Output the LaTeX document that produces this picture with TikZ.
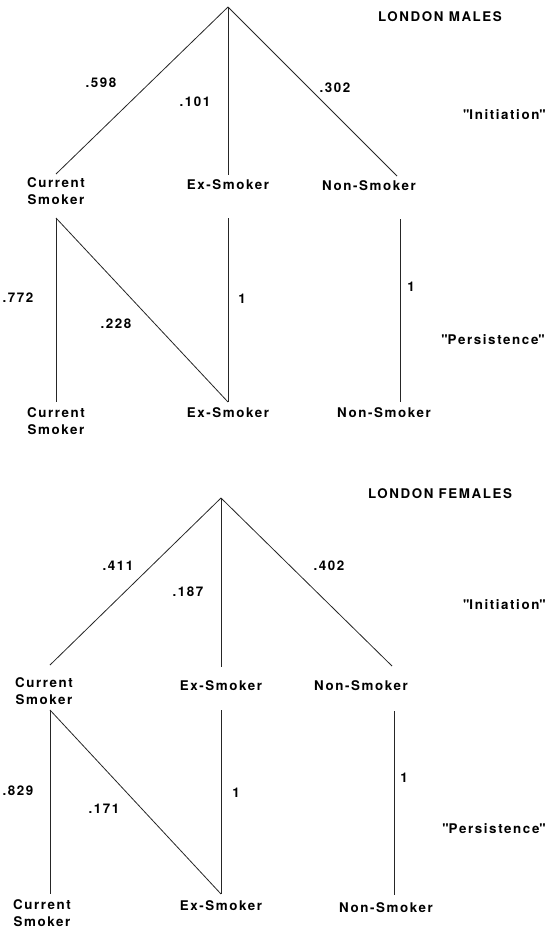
\documentclass[tikz,border=0pt]{standalone}
\usepackage{fontspec}
\setmainfont{TeX Gyre Heros}[LetterSpace=12]
\newcommand{\qq}[1]{\textquotedbl#1\textquotedbl}
\begin{document}
\begin{tikzpicture}[x=0.75pt, y=-0.75pt,
  lbl/.style={font=\fontsize{10}{12.5}\selectfont\bfseries, inner sep=0pt, align=center},
  edge/.style={line width=0.6pt, black!85}]
\useasboundingbox (0,0) rectangle (547,928);

% ---------------- London males ----------------
\node[lbl] (titleM) at (440,17) {LONDON MALES};
\node[lbl, anchor=east] (initM) at (546,115) {\qq{Initiation}};
\node[lbl, anchor=east] (persM) at (545,340) {\qq{Persistence}};

% initiation tree
\coordinate (rootM) at (228,7);
\coordinate (csM)  at (56,174);
\coordinate (exM)  at (228,175);
\coordinate (nsM)  at (397,176);
\draw[edge] (rootM) -- (csM);
\draw[edge] (rootM) -- (exM);
\draw[edge] (rootM) -- (nsM);
\node[lbl] (pcsM) at (101,83)  {.598};
\node[lbl] (pexM) at (195,102) {.101};
\node[lbl] (pnsM) at (335,88)  {.302};

\node[lbl] (lcsM) at (56,191)  {Current\\Smoker};
\node[lbl] (lexM) at (228,185) {Ex-Smoker};
\node[lbl] (lnsM) at (369,186) {Non-Smoker};

% persistence
\coordinate (cs2M)  at (56,218);
\coordinate (ex2M)  at (228,218);
\coordinate (ns2M)  at (400,219);
\coordinate (cs3M)  at (56,402);
\coordinate (ex3M)  at (228,402);
\coordinate (ns3M)  at (400,402);
\draw[edge] (cs2M) -- (cs3M);
\draw[edge] (cs2M) -- (ex3M);
\draw[edge] (ex2M) -- (ex3M);
\draw[edge] (ns2M) -- (ns3M);
\node[lbl] (qcsM) at (18,298)  {.772};
\node[lbl] (qexM) at (116,324) {.228};
\node[lbl] (qxxM) at (242,299) {1};
\node[lbl] (qnnM) at (411,287) {1};

\node[lbl] (bcsM) at (56,421)  {Current\\Smoker};
\node[lbl] (bexM) at (228,413) {Ex-Smoker};
\node[lbl] (bnsM) at (384,413) {Non-Smoker};

% ---------------- London females ----------------
\node[lbl] (titleF) at (440,494) {LONDON FEMALES};
\node[lbl, anchor=east] (initF) at (546,605) {\qq{Initiation}};
\node[lbl, anchor=east] (persF) at (546,829) {\qq{Persistence}};

\coordinate (rootF) at (221,498);
\coordinate (csF)  at (50,665);
\coordinate (exF)  at (221,667);
\coordinate (nsF)  at (392,666);
\draw[edge] (rootF) -- (csF);
\draw[edge] (rootF) -- (exF);
\draw[edge] (rootF) -- (nsF);
\node[lbl] (pcsF) at (118,566) {.411};
\node[lbl] (pexF) at (188,592) {.187};
\node[lbl] (pnsF) at (329,566) {.402};

\node[lbl] (lcsF) at (44,691)  {Current\\Smoker};
\node[lbl] (lexF) at (221,686) {Ex-Smoker};
\node[lbl] (lnsF) at (361,686) {Non-Smoker};

\coordinate (cs2F)  at (50,710);
\coordinate (ex2F)  at (221,710);
\coordinate (ns2F)  at (394,711);
\coordinate (cs3F)  at (50,894);
\coordinate (ex3F)  at (221,894);
\coordinate (ns3F)  at (394,895);
\draw[edge] (cs2F) -- (cs3F);
\draw[edge] (cs2F) -- (ex3F);
\draw[edge] (ex2F) -- (ex3F);
\draw[edge] (ns2F) -- (ns3F);
\node[lbl] (qcsF) at (18,791)  {.829};
\node[lbl] (qexF) at (104,809) {.171};
\node[lbl] (qxxF) at (236,793) {1};
\node[lbl] (qnnF) at (404,778) {1};

\node[lbl] (bcsF) at (42,913)  {Current\\Smoker};
\node[lbl] (bexF) at (221,906) {Ex-Smoker};
\node[lbl] (bnsF) at (386,908) {Non-Smoker};
\end{tikzpicture}
\end{document}
